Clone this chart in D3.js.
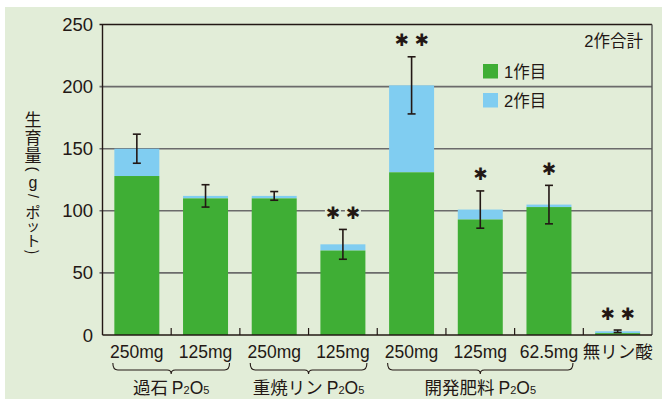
<!DOCTYPE html>
<html lang="ja">
<head>
  <meta charset="UTF-8">
  <title>生育量</title>
  <script src="https://d3js.org/d3.v7.min.js"></script>
  <style>
    body { margin: 0; background: #fff; }
    svg text { font-family: "Liberation Sans", "Noto Sans CJK JP", sans-serif; fill: #231815; }
  </style>
</head>
<body>
  <svg width="662" height="399"></svg>

  <script>
    // data
    const doses = ["250mg", "125mg", "250mg", "125mg", "250mg", "125mg", "62.5mg", "無リン酸"];
    const crop1 = [128, 110, 110, 68, 131, 93, 103, 1.5];
    const total = [150, 112, 112, 73, 201, 101, 105, 3];
    const sd    = [11.7, 9, 3.5, 12, 23, 15, 15.5, 1];
    const marks = [0, 0, 0, 2, 2, 1, 1, 2];   // number of asterisks
    const groups = [
      { name: "過石 ", from: 0, to: 1 },
      { name: "重焼リン ", from: 2, to: 3 },
      { name: "開発肥料 ", from: 4, to: 6 }
    ];
    const yTicks = [0, 50, 100, 150, 200, 250];
    const yTitle = ["生", "育", "量", "(", "g", "/", "ポ", "ッ", "ト", ")"];

    const bg = "#e2edd8", green = "#3fae35", blue = "#80cdf1";

    const svg = d3.select("svg");
    svg.append("rect").attr("x", 5).attr("y", 7).attr("width", 657).attr("height", 392).attr("fill", bg);

    const pLeft = 102.5, pRight = 652, pTop = 24.5, pBottom = 335;

    const x = d3.scaleBand().domain(d3.range(doses.length)).range([pLeft, pRight]).paddingInner(0.345).paddingOuter(0.1725);
    const y = d3.scaleLinear().domain([0, 250]).range([pBottom, pTop]);

    // grid
    svg.selectAll(".grid").data(yTicks.slice(1)).enter().append("line")
      .attr("x1", pLeft - 3).attr("x2", pRight)
      .attr("y1", d => y(d)).attr("y2", d => y(d))
      .attr("stroke", d => d === 250 ? "#231815" : "#6b6b6b").attr("stroke-width", d => d === 250 ? 1.4 : 1.6);

    svg.append("line").attr("x1", pRight).attr("x2", pRight).attr("y1", pTop).attr("y2", pBottom)
      .attr("stroke", "#555").attr("stroke-width", 1.4);

    // bars
    const bars = svg.append("g");
    bars.selectAll(".b2").data(total).enter().append("rect")
      .attr("x", (d, i) => x(i)).attr("width", x.bandwidth())
      .attr("y", d => y(d)).attr("height", (d, i) => y(crop1[i]) - y(d))
      .attr("fill", blue);
    bars.selectAll(".b1").data(crop1).enter().append("rect")
      .attr("x", (d, i) => x(i)).attr("width", x.bandwidth())
      .attr("y", d => y(d)).attr("height", d => pBottom - y(d))
      .attr("fill", green);

    // error bars
    const eb = svg.append("g").attr("stroke", "#231815").attr("stroke-width", 1.6);
    total.forEach((t, i) => {
      const cx = x(i) + x.bandwidth() / 2;
      eb.append("line").attr("x1", cx).attr("x2", cx).attr("y1", y(t + sd[i])).attr("y2", y(t - sd[i]));
      [t + sd[i], t - sd[i]].forEach(v => {
        eb.append("line").attr("x1", cx - 4).attr("x2", cx + 4).attr("y1", y(v)).attr("y2", y(v));
      });
    });

    // axes
    svg.append("line").attr("x1", pLeft).attr("x2", pLeft).attr("y1", pTop).attr("y2", pBottom)
      .attr("stroke", "#231815").attr("stroke-width", 1.4);
    svg.append("line").attr("x1", pLeft).attr("x2", pRight).attr("y1", pBottom).attr("y2", pBottom)
      .attr("stroke", "#231815").attr("stroke-width", 1.6);
    svg.selectAll(".xt").data(d3.range(1, doses.length)).enter().append("line")
      .attr("x1", i => x(i) - x.step() * x.paddingInner() / 2).attr("x2", i => x(i) - x.step() * x.paddingInner() / 2)
      .attr("y1", pBottom).attr("y2", pBottom - 7)
      .attr("stroke", "#231815").attr("stroke-width", 1.2);

    svg.selectAll(".yl").data(yTicks).enter().append("text")
      .attr("x", 93).attr("y", d => y(d) + 6.5)
      .attr("text-anchor", "end").attr("font-size", 18.5).text(d => d);

    // asterisks
    const st = svg.append("g");
    marks.forEach((n, i) => {
      if (!n) return;
      const cx = x(i) + x.bandwidth() / 2;
      const cy = y(total[i] + sd[i]) - 17;
      d3.range(n).forEach(k => {
        const sx = cx + (k - (n - 1) / 2) * 20;
        st.append("rect").attr("x", sx - 8).attr("y", cy - 8).attr("width", 16).attr("height", 16).attr("fill", bg);
        st.append("text").attr("x", sx).attr("y", cy + 6.5).attr("text-anchor", "middle")
          .attr("font-size", 17).style("font-family", "DejaVu Sans").attr("fill", "#2b2b2b").text("✱");
      });
    });

    // category labels
    svg.selectAll(".xl").data(doses).enter().append("text")
      .attr("x", (d, i) => x(i) + x.bandwidth() / 2).attr("y", 357.5)
      .attr("text-anchor", "middle").attr("font-size", 17.5)
      .style("font-family", (d, i) => i === 7 ? "Noto Sans CJK JP" : null)
      .text(d => d);

    // group braces
    groups.forEach(g => {
      const x0 = x(g.from) - 1.5, x1 = x(g.to) + x.bandwidth() + 1.5, xm = (x0 + x1) / 2;
      svg.append("path")
        .attr("d", `M${x0},363 Q${x0},370 ${x0 + 5},370 L${xm - 4},370 Q${xm},370 ${xm},374 Q${xm},370 ${xm + 4},370 L${x1 - 5},370 Q${x1},370 ${x1},363`)
        .attr("fill", "none").attr("stroke", "#231815").attr("stroke-width", 1.1);
      const t = svg.append("text").attr("x", xm).attr("y", 394).attr("text-anchor", "middle").attr("font-size", 17.5);
      t.append("tspan").style("font-family", "Noto Sans CJK JP").text(g.name);
      t.append("tspan").text("P");
      t.append("tspan").attr("font-size", 11).text("2");
      t.append("tspan").text("O");
      t.append("tspan").attr("font-size", 11).text("5");
    });

    // legend
    svg.append("text").attr("x", 643).attr("y", 47).attr("text-anchor", "end").attr("font-size", 16.5).text("2作合計");
    [["1作目", green, 64], ["2作目", blue, 93]].forEach(([lab, c, yy]) => {
      svg.append("rect").attr("x", 483).attr("y", yy).attr("width", 15).attr("height", 14.5).attr("fill", c);
      svg.append("text").attr("x", 504).attr("y", yy + 13.5).attr("font-size", 16.5).text(lab);
    });

    // y axis title, set one glyph at a time (vertical); brackets turned a quarter
    const titleY = [118, 136, 154, 169, 182, 196, 211, 225, 239, 252];
    const titleSize = [17, 17, 17, 15, 16, 14, 15, 14, 15, 15];
    svg.append("g").selectAll("text").data(yTitle).enter().append("text")
      .attr("transform", (d, i) => `translate(33,${titleY[i]})` + ("()/".includes(d) ? " rotate(90)" : ""))
      .attr("text-anchor", "middle").attr("dominant-baseline", "central")
      .attr("font-size", (d, i) => titleSize[i])
      .style("font-family", (d, i) => i > 2 && i < 6 ? "Liberation Sans" : "Noto Sans CJK JP")
      .text(d => d);
  </script>
</body>
</html>
